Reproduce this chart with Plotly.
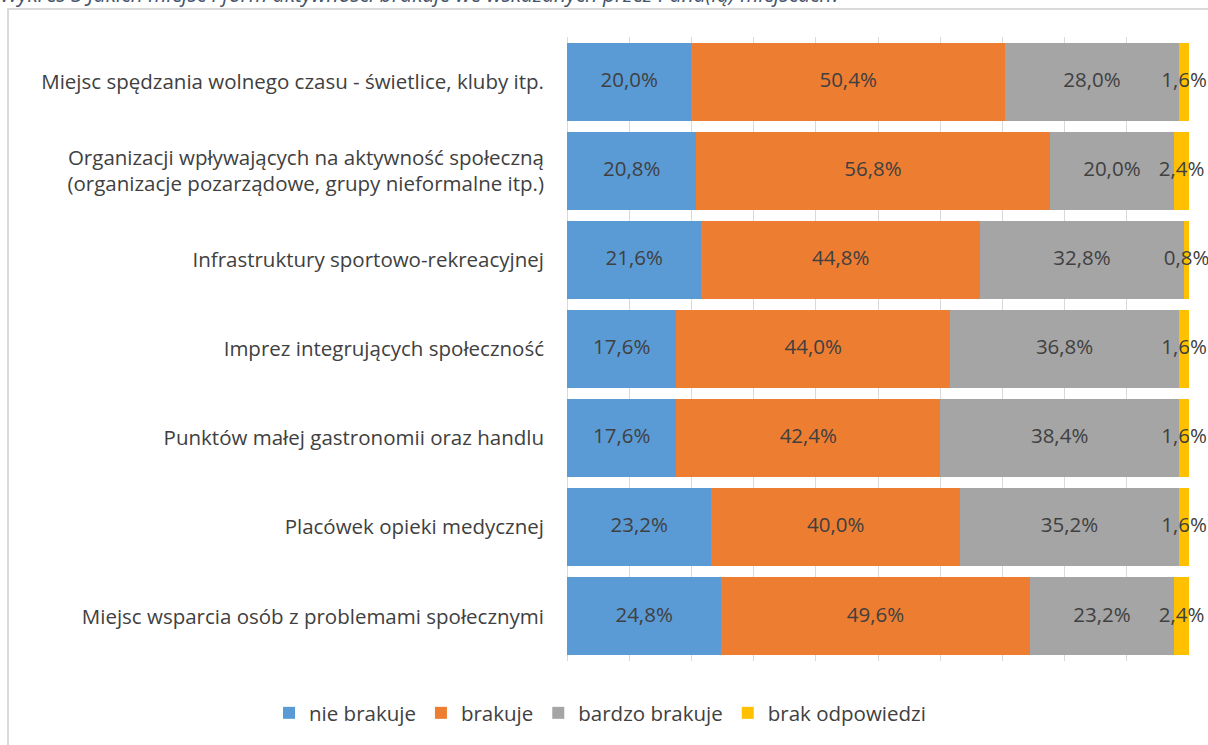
import plotly.graph_objects as go

# Survey answers per place / activity type (percent of respondents)
categories = [
    "Miejsc spędzania wolnego czasu - świetlice, kluby itp.",
    "Organizacji wpływających na aktywność społeczną<br>(organizacje pozarządowe, grupy nieformalne itp.)",
    "Infrastruktury sportowo-rekreacyjnej",
    "Imprez integrujących społeczność",
    "Punktów małej gastronomii oraz handlu",
    "Placówek opieki medycznej",
    "Miejsc wsparcia osób z problemami społecznymi",
]
series_names = ["nie brakuje", "brakuje", "bardzo brakuje", "brak odpowiedzi"]
nie_brakuje = [20.0, 20.8, 21.6, 17.6, 17.6, 23.2, 24.8]
brakuje = [50.4, 56.8, 44.8, 44.0, 42.4, 40.0, 49.6]
bardzo_brakuje = [28.0, 20.0, 32.8, 36.8, 38.4, 35.2, 23.2]
brak_odpowiedzi = [1.6, 2.4, 0.8, 1.6, 1.6, 1.6, 2.4]

colors = ["#5B9BD5", "#ED7D31", "#A5A5A5", "#FFC000"]
FONT = "Open Sans"
TEXT = "#404040"

W, H = 1208, 745
L, R, T, B = 567, 19, 37, 84
pw, ph = W - L - R, H - T - B


def px_x(x):
    return (x - L) / pw


def px_y(y):
    return (H - B - y) / ph


def pct(v):
    return f"{v:.1f}".replace(".", ",") + "%"


fig = go.Figure()
all_series = [nie_brakuje, brakuje, bardzo_brakuje, brak_odpowiedzi]
base = [0.0] * len(categories)
for name, vals, col in zip(series_names, all_series, colors):
    fig.add_trace(go.Bar(
        y=categories, x=vals, name=name, orientation="h",
        marker=dict(color=col, line=dict(width=0)),
        hoverinfo="x+y",
    ))
    # value labels centred on each segment
    centers = [b + v / 2 for b, v in zip(base, vals)]
    fig.add_trace(go.Scatter(
        y=categories, x=centers, mode="text",
        text=[pct(v) for v in vals], textposition="middle center",
        textfont=dict(family=FONT, size=20.5, color=TEXT),
        showlegend=False, hoverinfo="skip", cliponaxis=False,
    ))
    base = [b + v for b, v in zip(base, vals)]

# outer frame of the chart area
fig.add_shape(type="rect", xref="paper", yref="paper",
              x0=px_x(8), x1=px_x(1240), y0=px_y(780), y1=px_y(9),
              line=dict(color="#D9D9D9", width=2), fillcolor="rgba(0,0,0,0)",
              layer="below")

fig.add_annotation(
    text="Wykres 3 Jakich miejsc i form aktywności brakuje we wskazanych przez Pana(ią) miejscach?",
    xref="paper", yref="paper", x=px_x(-2), y=px_y(10),
    xanchor="left", yanchor="bottom", showarrow=False,
    font=dict(family=FONT, size=21, color="#44546A", style="italic"),
)

fig.update_layout(
    width=W, height=H,
    margin=dict(l=L, r=R, t=T, b=B, pad=0),
    barmode="stack", bargap=0.125,
    paper_bgcolor="white", plot_bgcolor="white",
    font=dict(family=FONT, color=TEXT),
    showlegend=True,
    legend=dict(orientation="h", x=px_x(269), xanchor="left",
                y=px_y(713), yanchor="middle",
                font=dict(family=FONT, size=20.5, color=TEXT),
                itemwidth=30, traceorder="normal"),
    xaxis=dict(range=[0, 100], dtick=10, showticklabels=False,
               showgrid=True, gridcolor="#D9D9D9", gridwidth=1,
               zeroline=True, zerolinecolor="#D9D9D9", zerolinewidth=1,
               showline=False, fixedrange=True),
    yaxis=dict(categoryorder="array", categoryarray=categories,
               autorange="reversed", showgrid=False, showline=False,
               ticks="", ticklabelstandoff=22,
               tickfont=dict(family=FONT, size=20.5, color=TEXT)),
)

fig.write_html("out.html")
